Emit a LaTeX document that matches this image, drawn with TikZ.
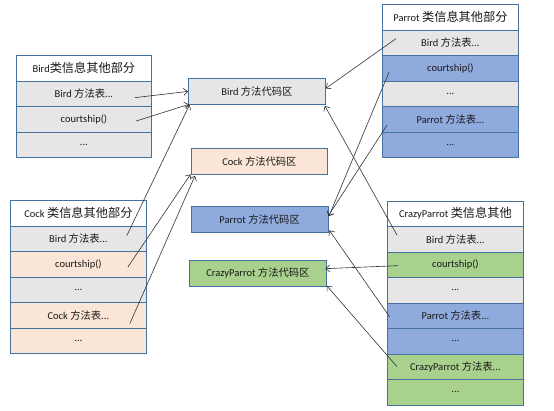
\documentclass[tikz,border=0pt]{standalone}
\usepackage{fontspec}
\setmainfont{Carlito}
\newfontfamily\cjkfont{Noto Sans CJK SC}
\usetikzlibrary{arrows.meta,calc}
\newcommand{\zh}[1]{{\cjkfont\fontsize{10.3}{12}\selectfont #1}}
\newcommand{\zhh}[1]{{\cjkfont\fontsize{12.2}{14}\selectfont #1}}
\definecolor{bordc}{RGB}{70,114,160}
\definecolor{cgray}{HTML}{E7E6E6}
\definecolor{cpeach}{HTML}{FBE5D6}
\definecolor{cblue}{HTML}{8FAADC}
\definecolor{cgreen}{HTML}{A9D18E}
\definecolor{arrc}{RGB}{50,50,50}
\definecolor{txtc}{RGB}{25,25,25}
\tikzset{
  cell/.style={draw=bordc, line width=0.8pt, minimum width=136pt, minimum height=25.5pt,
    anchor=north west, inner sep=0pt, text=txtc, font=\fontsize{10.5}{12}\selectfont},
  codebox/.style={cell, minimum height=26pt},
  arr/.style={draw=arrc, line width=0.6pt, -{Straight Barb[length=4pt,width=7pt]}}
}
\begin{document}
\begin{tikzpicture}[x=1pt,y=-1pt]
\useasboundingbox (0,0) rectangle (554,410);
% Bird table
\node[cell,fill=white,minimum width=135pt] (b1) at (16,55) {Bird\zhh{类信息其他部分}};
\node[cell,fill=cgray,minimum width=135pt] (b2) at (16,80.5) {Bird \zh{方法表}...};
\node[cell,fill=cgray,minimum width=135pt] (b3) at (16,106) {courtship()};
\node[cell,fill=cgray,minimum width=135pt] (b4) at (16,131.5) {...};
% Parrot table
\node[cell,fill=white] (p1) at (382,4) {Parrot \zhh{类信息其他部分}};
\node[cell,fill=cgray] (p2) at (382,29.5) {Bird \zh{方法表}...};
\node[cell,fill=cblue] (p3) at (382,55) {courtship()};
\node[cell,fill=cgray] (p4) at (382,80.5) {...};
\node[cell,fill=cblue] (p5) at (382,106) {Parrot \zh{方法表}...};
\node[cell,fill=cblue] (p6) at (382,131.5) {...};
% Cock table
\node[cell,fill=white] (c1) at (10,200) {Cock \zhh{类信息其他部分}};
\node[cell,fill=cgray] (c2) at (10,225.5) {Bird \zh{方法表}...};
\node[cell,fill=cpeach] (c3) at (10,251) {courtship()};
\node[cell,fill=cgray] (c4) at (10,276.5) {...};
\node[cell,fill=cpeach] (c5) at (10,302) {Cock \zh{方法表}...};
\node[cell,fill=cpeach] (c6) at (10,327.5) {...};
% CrazyParrot table
\node[cell,fill=white] (cp1) at (387,200.5) {CrazyParrot \zhh{类信息其他}};
\node[cell,fill=cgray] (cp2) at (387,226) {Bird \zh{方法表}...};
\node[cell,fill=cgreen] (cp3) at (387,251.5) {courtship()};
\node[cell,fill=cgray] (cp4) at (387,277) {...};
\node[cell,fill=cblue] (cp5) at (387,302.5) {Parrot \zh{方法表}...};
\node[cell,fill=cblue] (cp6) at (387,328) {...};
\node[cell,fill=cgreen] (cp7) at (387,353.5) {CrazyParrot \zh{方法表}...};
\node[cell,fill=cgreen] (cp8) at (387,379) {...};
% code areas
\node[codebox,fill=cgray,minimum width=137pt] (bcode) at (188,78) {Bird \zh{方法代码区}};
\node[codebox,fill=cpeach] (ccode) at (191,148) {Cock \zh{方法代码区}};
\node[codebox,fill=cblue,minimum width=136.5pt] (pcode) at (191,206) {Parrot \zh{方法代码区}};
\node[codebox,fill=cgreen,minimum width=137pt,minimum height=25.5pt] (cpcode) at (189,260) {CrazyParrot \zh{方法代码区}};
% connectors left
\draw[arr] ($(b2.east)+(-17,4)$) -- (bcode.west);
\draw[arr] ($(b3.east)+(-16,2)$) -- ($(bcode.south west)+(1,-0.5)$);
\draw[arr] ($(c2.east)+(-20,-3)$) -- ($(bcode.south west)+(1.5,0)$);
\draw[arr] ($(c3.east)+(-19,3)$) -- ($(ccode.south west)+(-0.5,-0.5)$);
\draw[arr] ($(c5.east)+(-17,8.5)$) -- ($(ccode.south west)+(4,1)$);
% connectors right
\draw[arr] ($(p2.west)+(14,-4)$) -- ($(bcode.east)+(0,-3)$);
\draw[arr] ($(p3.west)+(7,4)$) -- ($(pcode.east)+(0.5,-3)$);
\draw[arr] ($(p5.west)+(5,6)$) -- ($(pcode.east)+(0,-3.5)$);
\draw[arr] ($(cp2.west)+(10,-4)$) -- ($(bcode.south east)+(-1,1)$);
\draw[arr] ($(cp3.west)+(11,1)$) -- ($(cpcode.east)+(-1.5,-4.5)$);
\draw[arr] ($(cp5.west)+(2.5,1)$) -- ($(pcode.south east)+(1,-2.5)$);
\draw[arr] ($(cp7.west)+(10,0)$) -- ($(cpcode.south east)+(0,-0.5)$);
\end{tikzpicture}
\end{document}
